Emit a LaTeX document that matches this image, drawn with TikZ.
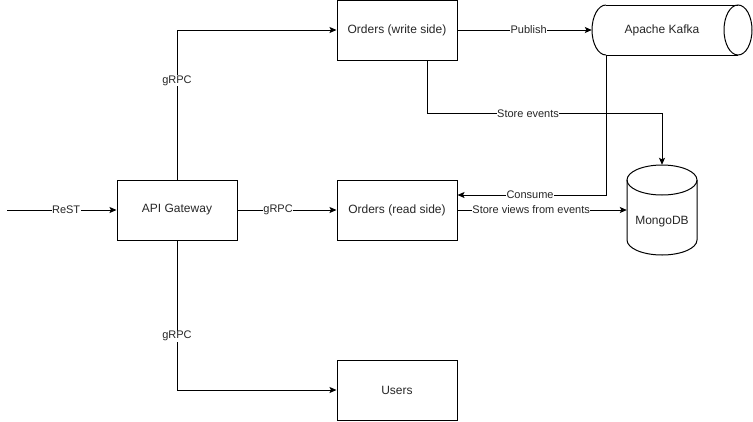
\documentclass[tikz,border=0pt]{standalone}
\usepackage{fontspec}
\setmainfont{Liberation Sans}
\usetikzlibrary{arrows.meta,calc}
\begin{document}
\begin{tikzpicture}[x=1pt,y=-1pt,
  every node/.style={font=\fontsize{12pt}{14pt}\selectfont, text=black!85},
  box/.style={draw, line width=1pt, minimum width=120pt, minimum height=60pt, inner sep=0pt},
  holder/.style={inner sep=0pt},
  lbl/.style={fill=white, inner sep=0.5pt, font=\fontsize{11pt}{13pt}\selectfont, text=black!85},
  arr/.style={line width=1pt, -{Stealth[length=7pt,width=6pt,inset=1.5pt]}},
  cyl/.style={line width=1pt}]
\useasboundingbox (0,0) rectangle (753,421);
% boxes
\node[box] (gw) at (177,210) {API Gateway};
\node[box] (ow) at (397,30) {Orders (write side)};
\node[box] (or) at (397,210) {Orders (read side)};
\node[box] (us) at (397,390) {Users};
% Kafka cylinder (horizontal)
\node[holder, minimum width=160pt, minimum height=50pt] (kafka) at (672,30) {};
\draw[cyl] (606,5) -- (738,5);
\draw[cyl] (606,55) -- (738,55);
\draw[cyl] (606,5) arc[start angle=270, end angle=90, x radius=14, y radius=25];
\draw[cyl] (738,30) ellipse [x radius=14, y radius=25];
\node (kafkatext) at (662,30) {Apache Kafka};
% MongoDB cylinder (vertical)
\node[holder, minimum width=70pt, minimum height=90pt] (mongo) at (662,210) {};
\draw[cyl] (662,180) ellipse [x radius=35, y radius=15];
\draw[cyl] (627,180) -- (627,240) arc[start angle=180, end angle=0, x radius=35, y radius=15] -- (697,180);
\node (mongotext) at (662,222) {MongoDB};
% connectors
\coordinate (in) at (7,210);
\draw[arr] (in) -- node[lbl, pos=0.54] {ReST} (gw);
\draw[arr] (gw) -- node[lbl, pos=0.41] {gRPC} (or);
\draw[arr] (gw.north) |- node[lbl, pos=0.33] {gRPC} (ow.west);
\draw[arr] (gw.south) |- node[lbl, pos=0.32] {gRPC} (us.west);
\draw[arr] (ow) -- node[lbl, pos=0.53] {Publish} (kafka.west);
\draw[arr] ($(ow.south)+(30,0)$) -- ++(0,53) -| node[lbl, pos=0.215] {Store events} (mongo.north);
\draw[arr] ($(kafka.south west)+(15,0)$) |- node[lbl, pos=0.757] {Consume} ($(or.east)+(0,-15)$);
\draw[arr] (or) -- node[lbl, pos=0.435] {Store views from events} (mongo.west);
\end{tikzpicture}
\end{document}
